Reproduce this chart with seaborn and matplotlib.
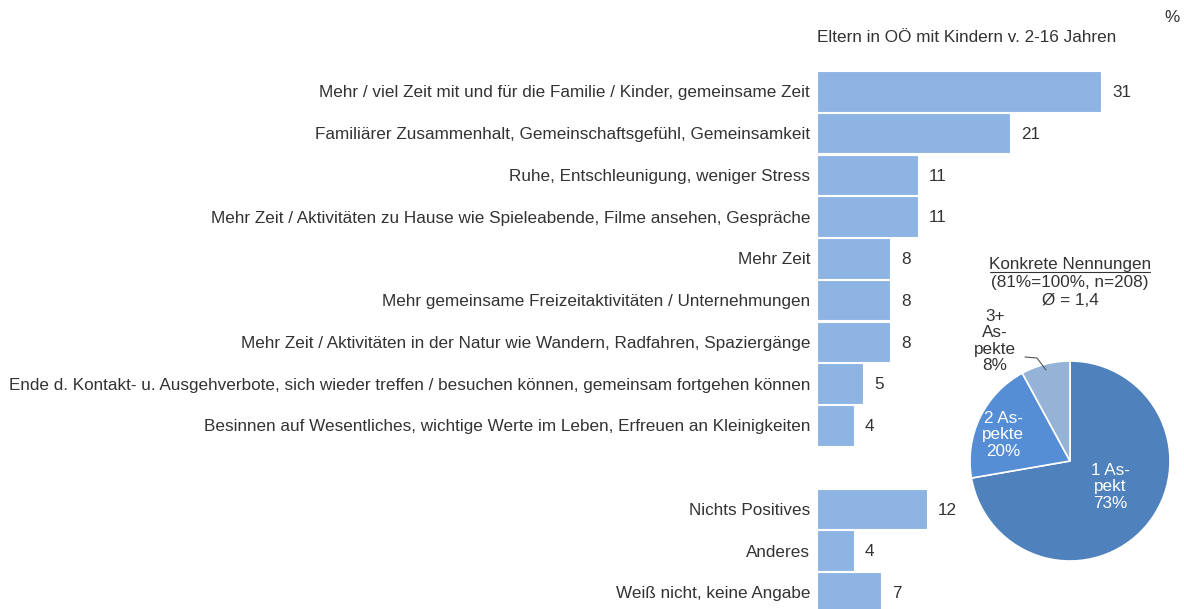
import numpy as np
import pandas as pd
import seaborn as sns
import matplotlib.pyplot as plt

categories = [
    "Mehr / viel Zeit mit und für die Familie / Kinder, gemeinsame Zeit",
    "Familiärer Zusammenhalt, Gemeinschaftsgefühl, Gemeinsamkeit",
    "Ruhe, Entschleunigung, weniger Stress",
    "Mehr Zeit / Aktivitäten zu Hause wie Spieleabende, Filme ansehen, Gespräche",
    "Mehr Zeit",
    "Mehr gemeinsame Freizeitaktivitäten / Unternehmungen",
    "Mehr Zeit / Aktivitäten in der Natur wie Wandern, Radfahren, Spaziergänge",
    "Ende d. Kontakt- u. Ausgehverbote, sich wieder treffen / besuchen können, gemeinsam fortgehen können",
    "Besinnen auf Wesentliches, wichtige Werte im Leben, Erfreuen an Kleinigkeiten",
    "",
    "Nichts Positives",
    "Anderes",
    "Weiß nicht, keine Angabe",
]
values = [31, 21, 11, 11, 8, 8, 8, 5, 4, np.nan, 12, 4, 7]

pie_labels = ["1 As-\npekt\n73%", "2 As-\npekte\n20%", "3+\nAs-\npekte\n8%"]
pie_values = [73, 20, 8]

header = "Eltern in OÖ mit Kindern v. 2-16 Jahren"
pie_title = "Konkrete Nennungen"
pie_sub = "(81%=100%, n=208)\nØ = 1,4"

sns.set_style("white")
plt.rcParams['font.family'] = ['Liberation Sans', 'DejaVu Sans']
text_col = "#333333"
bar_col = "#8EB4E3"
fs = 12.3

fig = plt.figure(figsize=(11.84, 6.09), dpi=100)
ax = fig.add_axes([817 / 1184, 0, 1 - 817 / 1184, 1 - 70.5 / 609])

df = pd.DataFrame({"cat": [str(i) for i in range(len(categories))], "val": values})
sns.barplot(data=df, x="val", y="cat", orient="h", color=bar_col, saturation=1,
            width=0.97, edgecolor="white", linewidth=0.8, ax=ax)
ax.set_xlim(0, 40)
ax.set_ylim(12.4, -0.5)
ax.set_yticks(range(len(categories)))
ax.set_yticklabels(categories, fontsize=fs, color=text_col)
ax.tick_params(axis="y", length=0, pad=5)
ax.set_xticks([])
ax.set_xlabel("")
ax.set_ylabel("")
sns.despine(ax=ax, left=True, bottom=True)

for i, v in enumerate(values):
    if not np.isnan(v):
        ax.text(v + 1.2, i + 0.03, f"{int(v)}", va="center", ha="left", fontsize=fs, color=text_col)

fig.text(817 / 1184, 1 - 38 / 609, header, ha="left", va="center", fontsize=fs, color=text_col)
fig.text(1172 / 1184, 1 - 18 / 609, "%", ha="center", va="center", fontsize=fs, color=text_col)

# pie
pax = fig.add_axes([970 / 1184, (609 - 561) / 609, 200 / 1184, 200 / 609])
pie_colors = ["#4F81BD", "#558ED5", "#95B3D7"]
pax.pie(pie_values, colors=pie_colors, startangle=90, counterclock=False,
        wedgeprops={"edgecolor": "white", "linewidth": 1.2})
pax.set_xlim(-1.0, 1.0)
pax.set_ylim(-1.0, 1.0)
pax.set_aspect("auto")
pax.axis("off")

pax.text(0.4, -0.26, pie_labels[0], ha="center", va="center", fontsize=fs,
         color="white", linespacing=1.15)
pax.text(-0.67, 0.26, pie_labels[1], ha="center", va="center", fontsize=fs,
         color="white", linespacing=1.15)
pax.text(-0.75, 1.2, pie_labels[2], ha="center", va="center", fontsize=fs,
         color=text_col, linespacing=1.1, clip_on=False)
pax.plot([-0.45, -0.33, -0.24], [1.04, 1.03, 0.91], color="#555555", lw=0.8, clip_on=False)

pax.text(0.0, 1.97, pie_title, ha="center", va="center", fontsize=fs, color=text_col,
         clip_on=False)
pax.plot([-0.8, 0.8], [1.895, 1.895], color=text_col, lw=0.8, clip_on=False)
pax.text(0.0, 1.695, pie_sub, ha="center", va="center", fontsize=fs, color=text_col,
         linespacing=1.2, clip_on=False)

fig.savefig("out.png", dpi=100)
